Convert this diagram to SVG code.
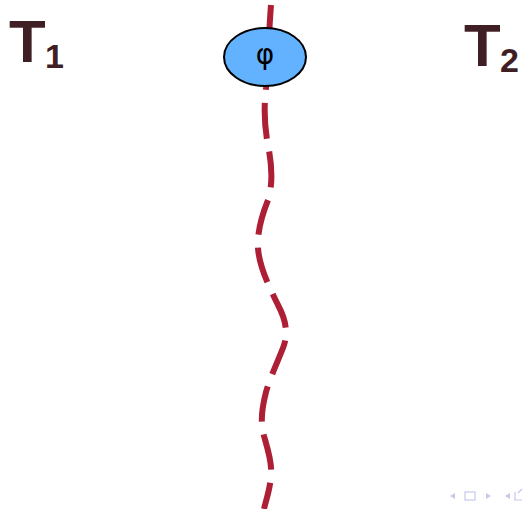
<svg xmlns="http://www.w3.org/2000/svg" width="524" height="509" viewBox="0 0 524 509">
<style>
.lbl{font-family:"Liberation Sans",Arial,sans-serif;font-weight:bold;fill:#3F1F24}
.wave{fill:none;stroke:#AD1F35;stroke-width:6;stroke-dasharray:36 13}
.nav{fill:#C8C8EC;stroke:none}
</style>
<rect width="524" height="509" fill="#fff"/>
<g id="connectors">
<path class="wave" d="M271,5 C269,30 268,60 266,88 C264,105 264,125 268,145 C272,165 273,185 268,200 C262,215 257,232 258,248 C259,265 268,285 278,305 C287,322 288,335 283,348 C277,363 270,378 266,392 C262,408 260,420 264,436 C268,450 272,462 271,475 C270,490 266,500 264,509"/>
</g>
<g id="phi">
<ellipse cx="265" cy="57" rx="41" ry="29" fill="#63B2FF" stroke="#000" stroke-width="2"/>
<text x="265" y="64" text-anchor="middle" font-family="'DejaVu Sans',sans-serif" font-size="28" fill="#000">φ</text>
</g>
<g id="T1">
<text class="lbl" x="9" y="62" font-size="60">T</text>
<text class="lbl" x="45" y="68" font-size="34">1</text>
</g>
<g id="T2">
<text class="lbl" x="464" y="66" font-size="60">T</text>
<text class="lbl" x="500" y="72" font-size="34">2</text>
</g>
<g id="nav">
<path class="nav" d="M450,496 L455,493 L455,499 Z"/>
<rect x="465" y="492" width="10" height="8" fill="none" stroke="#C8C8EC" stroke-width="1.2"/>
<path class="nav" d="M491,496 L486,493 L486,499 Z"/>
<path class="nav" d="M505,496 L510,493 L510,499 Z"/>
<path d="M514,500 L522,500 M515,500 L515,492 M518,493 L522,489" fill="none" stroke="#C8C8EC" stroke-width="1.2"/>
</g>
</svg>
